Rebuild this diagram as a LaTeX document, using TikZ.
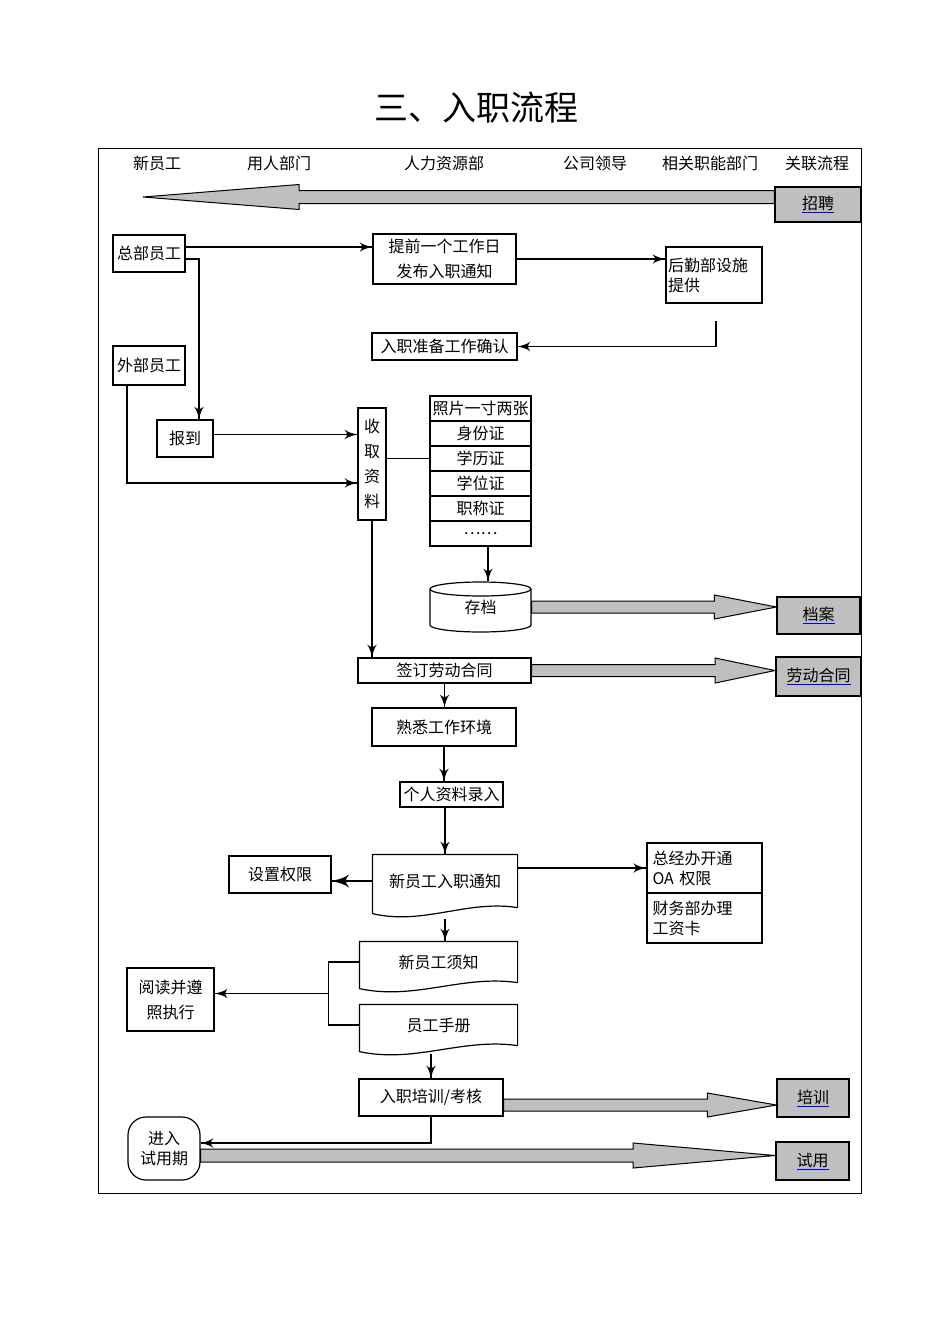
\documentclass[tikz,border=0pt]{standalone}
\usepackage{fontspec}
\setmainfont{Noto Sans CJK SC}
\usetikzlibrary{arrows}
\usetikzlibrary{calc}
\usetikzlibrary{decorations.markings}
\tikzset{->/.style = {decoration={markings,
                                  mark=at position 1 with {\arrow[scale=2]{latex'}}},
                      postaction={decorate}}}
\tikzset{box/.style = {draw, line width=1.2pt, inner sep=0, align=center}}
\tikzset{thickbox/.style = {box, line width=1.8pt}}
\tikzset{doc/.style = {inner sep=0, align=center}}
\tikzset{link/.style = {box, fill=black!25}}
\tikzset{fat/.style = {draw, line width=1pt, fill=black!25}}
\newcommand{\fatarrow}[5]{%
  \draw [fat] let \p1 = (#1), \p2 = (#2) in
    (\x1, {\y1+#4}) -- ({\x2-#3}, {\y1+#4}) -- ({\x2-#3}, {\y1+#5})
    -- (\x2, \y1) -- ({\x2-#3}, {\y1-#5}) -- ({\x2-#3}, {\y1-#4})
    -- (\x1, {\y1-#4}) -- cycle;}
\newcommand{\docshape}[1]{%
  \draw [line width=1.2pt] (#1.south east) -- (#1.north east) -- (#1.north west)
    -- ([yshift=-6pt]#1.south west)
    .. controls ($(#1.south west)!0.35!(#1.south east)+(0,-18pt)$)
    and ($(#1.south west)!0.65!(#1.south east)+(0,8pt)$) .. (#1.south east);}
\newcommand{\linktext}[1]{{\color{blue}\underline{\color{black}#1}}}

\begin{document}
\begin{tikzpicture}[x=1pt, y=-1pt, line width=1.2pt, font=\fontsize{16}{20}\selectfont]
    \useasboundingbox (0,0) rectangle (950,1344);
    \node (title) at (476,108) {\fontsize{34}{40}\selectfont 三、入职流程};
    \draw [line width=0.8pt] (98,148) rectangle (861,1193);
    % lanes
    \node (xinyuangong) at (157,163) {新员工};
    \node (yongren) at (279,163) {用人部门};
    \node (renli) at (444,163) {人力资源部};
    \node (lingdao) at (595,163) {公司领导};
    \node (zhineng) at (710,163) {相关职能部门};
    \node (guanlian) at (817,163) {关联流程};
    % recruiting
    \node [link, minimum width=86pt, minimum height=35pt] (zhaopin) at (818,204.5) {\linktext{招聘}};
    \coordinate (zptip) at (143,197);
    \fatarrow{zhaopin.west |- zptip}{zptip}{-156pt}{6.5pt}{12.5pt}
    % notice
    \node [box, minimum width=72pt, minimum height=37pt] (zongbu) at (149,253.5) {总部员工};
    \node [box, minimum width=143pt, minimum height=50pt, font=\fontsize{16}{25}\selectfont] (tiqian) at (444.5,259) {提前一个工作日\\发布入职通知};
    \node [box, minimum width=96pt, minimum height=56pt, text width=92pt, align=left] (houqin) at (714,275) {后勤部设施\\提供};
    \node [box, minimum width=145pt, minimum height=27pt] (zhunbei) at (444.5,346.5) {入职准备工作确认};
    \coordinate (zb1) at ([yshift=6.5pt]zongbu.east);
    \coordinate (zb2) at ([yshift=-5.5pt]zongbu.east);
    \draw [->] (zb1) -- (zb1 -| tiqian.west);
    \draw [->] (tiqian.east) -- (tiqian.east -| houqin.west);
    \coordinate (hq) at (716,321);
    \draw [->] (hq) |- (zhunbei.east);
    % report
    \node [box, minimum width=72pt, minimum height=39pt] (waibu) at (149,365.5) {外部员工};
    \node [box, minimum width=56pt, minimum height=37pt] (baodao) at (185,438.5) {报到};
    \node [box, minimum width=28pt, minimum height=112pt, font=\fontsize{16}{25}\selectfont] (shouqu) at (372,464) {收\\取\\资\\料};
    \draw [->] (zb2) -| ([xshift=14pt]baodao.north);
    \draw [->] ([yshift=4pt]baodao.east) -- ([yshift=4pt]baodao.east -| shouqu.west);
    \draw [->] ([xshift=-22pt]waibu.south) |- ([yshift=-19pt]shouqu.west);
    % documents
    \node [box, minimum width=101pt, minimum height=25pt] (zhaopian) at (480.5,408.5) {照片一寸两张};
    \node [box, minimum width=101pt, minimum height=25pt] (shenfen) at (480.5,433.5) {身份证};
    \node [box, minimum width=101pt, minimum height=25pt] (xueli) at (480.5,458.5) {学历证};
    \node [box, minimum width=101pt, minimum height=25pt] (xuewei) at (480.5,483.5) {学位证};
    \node [box, minimum width=101pt, minimum height=25pt] (zhicheng) at (480.5,508.5) {职称证};
    \node [box, minimum width=101pt, minimum height=25pt] (more) at (480.5,533.5) {……};
    \draw (xueli.west) -- (xueli.west -| shouqu.east);
    % archive
    \node [doc, minimum width=101pt, minimum height=50pt] (cundang) at (480.5,607) {\raisebox{-6pt}{存档}};
    \draw [line width=1.2pt] (430,589) -- (430,625)
      arc [start angle=180, end angle=360, x radius=50.5pt, y radius=7pt] -- (531,589);
    \draw [line width=1.2pt] (480.5,589) ellipse [x radius=50.5pt, y radius=7pt];
    \draw [->] ([xshift=7.5pt]more.south) -- ([xshift=7.5pt]cundang.north);
    \node [link, minimum width=83pt, minimum height=37pt] (dangan) at (818.5,615.5) {\linktext{档案}};
    \fatarrow{cundang.east}{dangan.west}{62pt}{6pt}{12pt}
    % contract
    \node [box, minimum width=173pt, minimum height=25pt] (qianding) at (444.5,670.5) {签订劳动合同};
    \node [link, line width=1.8pt, minimum width=85pt, minimum height=39pt] (laodong) at (818.5,676.5) {\linktext{劳动合同}};
    \draw [->] (shouqu.south) -- (shouqu.south |- qianding.north);
    \fatarrow{qianding.east}{laodong.west}{60pt}{6pt}{12.5pt}
    % environment
    \node [box, minimum width=144pt, minimum height=38pt] (shuxi) at (444,727) {熟悉工作环境};
    \node [box, minimum width=103pt, minimum height=25pt] (geren) at (451.5,794.5) {个人资料录入};
    \draw [->] (qianding.south) -- (qianding.south |- shuxi.north);
    \draw [->] (shuxi.south) -- (shuxi.south |- geren.north);
    % notice to new staff
    \node [doc, minimum width=144pt, minimum height=52pt] (tongzhi) at (445,881) {新员工入职通知};
    \docshape{tongzhi}
    \draw [->] (tongzhi.north |- geren.south) -- (tongzhi.north);
    \node [box, minimum width=102pt, minimum height=37pt] (shezhi) at (280,874.5) {设置权限};
    \draw [->, line width=2pt] (tongzhi.west) -- (tongzhi.west -| shezhi.east);
    \node [thickbox, minimum width=115pt, minimum height=50pt, text width=104pt, align=left] (zongjingban) at (704.5,868) {总经办开通\\OA 权限};
    \node [thickbox, minimum width=115pt, minimum height=50pt, text width=104pt, align=left] (caiwu) at (704.5,918) {财务部办理\\工资卡};
    \draw [->] (zongjingban.west -| tongzhi.east) -- (zongjingban.west);
    % handbook
    \node [doc, minimum width=157pt, minimum height=40pt] (xuzhi) at (438.5,962) {新员工须知};
    \docshape{xuzhi}
    \node [doc, minimum width=157pt, minimum height=40pt] (shouce) at (438.5,1025) {员工手册};
    \docshape{shouce}
    \draw [->] ([yshift=-11pt]tongzhi.south) -- (tongzhi.south |- xuzhi.north);
    \node [thickbox, minimum width=87pt, minimum height=63pt, font=\fontsize{16}{25}\selectfont] (yuedu) at (170.5,999.5) {阅读并遵\\照执行};
    \draw (xuzhi.west) -- ++(-31,0) |- (shouce.west);
    \coordinate (brk) at (329,993.5);
    \draw [->] (brk) -- (brk -| yuedu.east);
    % training
    \node [box, minimum width=144pt, minimum height=37pt] (peixun) at (431,1097.5) {入职培训/考核};
    \draw [->] ([yshift=-8pt]shouce.south -| peixun.north) -- (peixun.north);
    \node [link, minimum width=72pt, minimum height=38pt] (peixunlink) at (813,1098) {\linktext{培训}};
    \fatarrow{[yshift=-7.5pt]peixun.east}{peixunlink.west}{69pt}{6pt}{12pt}
    % probation
    \node [box, rounded corners=18pt, minimum width=72pt, minimum height=63pt, font=\fontsize{16}{20}\selectfont] (jinru) at (164,1148.5) {进入\\试用期};
    \draw [->] (peixun.south) |- ([yshift=5.5pt]jinru.east);
    \node [link, line width=1.8pt, minimum width=73pt, minimum height=38pt] (shiyong) at (812.5,1161) {\linktext{试用}};
    \fatarrow{[yshift=-7pt]jinru.east}{shiyong.west}{142pt}{6.5pt}{12.5pt}
  \end{tikzpicture}
\end{document}
